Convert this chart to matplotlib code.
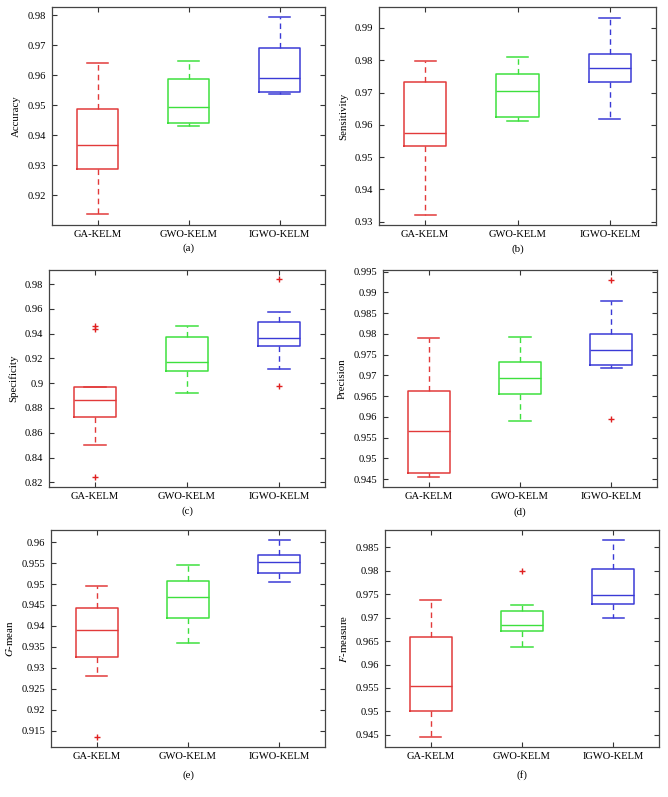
import matplotlib
matplotlib.use("Agg")
import matplotlib.pyplot as plt

plt.rcParams['font.family'] = ['Liberation Serif', 'DejaVu Serif']
plt.rcParams['mathtext.fontset'] = 'stix'

methods = ['GA-KELM', 'GWO-KELM', 'IGWO-KELM']
colors = ['#e23a3a', '#3ee03e', '#3a3ad6']
flier_color = '#e02020'

# (whislo, q1, med, q3, whishi) for each method
accuracy = [(0.9136, 0.9287, 0.9366, 0.9487, 0.9641),
            (0.9432, 0.9442, 0.9494, 0.9588, 0.9648),
            (0.9536, 0.9544, 0.9592, 0.9691, 0.9794)]
accuracy_fliers = [[], [], []]

sensitivity = [(0.9320, 0.9534, 0.9574, 0.9734, 0.9798),
               (0.9613, 0.9624, 0.9704, 0.9759, 0.9810),
               (0.9619, 0.9734, 0.9775, 0.9818, 0.9932)]
sensitivity_fliers = [[], [], []]

specificity = [(0.8500, 0.8730, 0.8867, 0.8970, 0.8970),
               (0.8917, 0.9098, 0.9173, 0.9373, 0.9465),
               (0.9113, 0.9300, 0.9368, 0.9496, 0.9571)]
specificity_fliers = [[0.9440, 0.9462, 0.8246], [], [0.9838, 0.8978]]

precision = [(0.9456, 0.9465, 0.9565, 0.9662, 0.9790),
             (0.9590, 0.9656, 0.9693, 0.9733, 0.9793),
             (0.9718, 0.9725, 0.9762, 0.9799, 0.9880)]
precision_fliers = [[], [], [0.9930, 0.9594]]

gmean = [(0.9280, 0.9327, 0.9390, 0.9444, 0.9496),
         (0.9359, 0.9420, 0.9468, 0.9508, 0.9545),
         (0.9505, 0.9527, 0.9553, 0.9569, 0.9606)]
gmean_fliers = [[0.9135], [], []]

fmeasure = [(0.9445, 0.9501, 0.9554, 0.9659, 0.9738),
            (0.9638, 0.9672, 0.9685, 0.9714, 0.9726),
            (0.9700, 0.9729, 0.9749, 0.9804, 0.9866)]
fmeasure_fliers = [[], [0.9800], []]

panels = [
    (accuracy, accuracy_fliers, 'Accuracy', (0.910, 0.9828),
     [0.92, 0.93, 0.94, 0.95, 0.96, 0.97, 0.98], '(a)'),
    (sensitivity, sensitivity_fliers, 'Sensitivity', (0.929, 0.9965),
     [0.93, 0.94, 0.95, 0.96, 0.97, 0.98, 0.99], '(b)'),
    (specificity, specificity_fliers, 'Specificity', (0.8162, 0.9913),
     [0.82, 0.84, 0.86, 0.88, 0.9, 0.92, 0.94, 0.96, 0.98], '(c)'),
    (precision, precision_fliers, 'Precision', (0.9431, 0.9954),
     [0.945, 0.95, 0.955, 0.96, 0.965, 0.97, 0.975, 0.98, 0.985, 0.99, 0.995], '(d)'),
    (gmean, gmean_fliers, r'$G$-mean', (0.9111, 0.9629),
     [0.915, 0.92, 0.925, 0.93, 0.935, 0.94, 0.945, 0.95, 0.955, 0.96], '(e)'),
    (fmeasure, fmeasure_fliers, r'$F$-measure', (0.9424, 0.9887),
     [0.945, 0.95, 0.955, 0.96, 0.965, 0.97, 0.975, 0.98, 0.985], '(f)'),
]

W, H = 668, 797
# axes boxes in pixels: left, top, right, bottom
boxes_px = [(52, 7, 325, 225), (379, 7, 656, 225),
            (49, 270, 325, 487), (383, 270, 657, 487),
            (51, 530, 325, 747), (385, 530, 659, 747)]
caption_y = [248, 249, 511, 512, 775, 775]

fig = plt.figure(figsize=(W / 100, H / 100), dpi=100)

for i, (stats5, fl, ylab, ylim, yticks, cap) in enumerate(panels):
    l, t, r, b = boxes_px[i]
    ax = fig.add_axes([l / W, 1 - b / H, (r - l) / W, (b - t) / H])
    for j in range(3):
        lo, q1, med, q3, hi = stats5[j]
        st = [dict(whislo=lo, q1=q1, med=med, q3=q3, whishi=hi, fliers=fl[j])]
        c = colors[j]
        ax.bxp(st, positions=[j + 1], widths=0.46,
               boxprops=dict(color=c, lw=1.1),
               medianprops=dict(color=c, lw=1.0),
               whiskerprops=dict(color=c, lw=1.0, linestyle=(0, (4, 3))),
               capprops=dict(color=c, lw=1.1),
               flierprops=dict(marker='+', markeredgecolor=flier_color,
                               markersize=4, markeredgewidth=1.0, linestyle='none'),
               capwidths=0.23)
    ax.set_xlim(0.5, 3.5)
    ax.set_ylim(*ylim)
    ax.set_yticks(yticks)
    ax.set_yticklabels([('%g' % v) for v in yticks])
    ax.set_xticks([1, 2, 3])
    ax.set_xticklabels(methods)
    ax.tick_params(direction='in', top=True, right=True, length=3.5,
                   width=0.8, color='#333333', labelsize=7.6, pad=4)
    ax.tick_params(axis='x', pad=3.5)
    for s in ax.spines.values():
        s.set_color('#444444')
        s.set_linewidth(0.9)
    ax.set_ylabel(ylab, fontsize=7.8, labelpad=5)
    fig.text(((l + r) / 2) / W, 1 - caption_y[i] / H, cap,
             ha='center', va='center', fontsize=7.8)

fig.savefig('out.png', dpi=100)
